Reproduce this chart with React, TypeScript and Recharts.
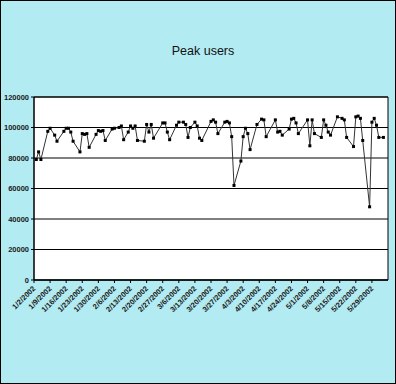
import { LineChart, Line, XAxis, YAxis, CartesianGrid, ReferenceArea } from 'recharts';

// days counted from 1/2/2002
const dayOffsets = [
  1, 2, 3, 6, 7, 9, 10, 13, 14, 15, 16, 17, 20, 21, 22, 23, 24, 27, 28, 29,
  30, 31, 34, 35, 37, 38, 39, 41, 42, 43, 44, 45, 48, 49, 50, 51, 52, 56, 57, 58,
  59, 62, 63, 65, 66, 67, 68, 70, 71, 72, 73, 77, 78, 79, 80, 83, 84, 85, 86, 87,
  90, 91, 92, 93, 94, 97, 99, 100, 101, 105, 106, 107, 108, 111, 112, 113, 114, 115, 119, 120,
  121, 122, 125, 126, 127, 128, 129, 132, 134, 135, 136, 139, 140, 141, 142, 143, 146, 147, 148, 149,
  150, 152,
];

const peakUsers = [
  79000, 84000, 79000, 97500, 99500, 95000, 91000, 97500, 99500, 99500, 97000, 91000, 84000, 96000, 95500, 96000, 87000, 95500, 98000, 97500,
  98000, 91500, 99000, 99500, 100000, 101000, 92000, 97000, 101000, 99500, 101000, 91500, 91000, 102000, 97000, 102000, 93000, 103000, 103000, 97000,
  92000, 101500, 103500, 103500, 102000, 93500, 100000, 103500, 101000, 93000, 91500, 104000, 105000, 103500, 96000, 103500, 104000, 103000, 94000, 62000,
  78000, 94000, 99500, 96000, 85500, 102000, 105500, 105000, 94000, 105000, 97000, 97500, 95000, 99000, 105500, 106000, 103000, 96000, 105000, 88000,
  105000, 96000, 93500, 105000, 101500, 97000, 95000, 107000, 106000, 105000, 93500, 87500, 107000, 107500, 106000, 91500, 48000, 103500, 106000, 101500,
  93500, 93500,
];

const tickDays = [0, 7, 14, 21, 28, 35, 42, 49, 56, 63, 70, 77, 84, 91, 98, 105, 112, 119, 126, 133, 140, 147];
const tickLabels = [
  '1/2/2002', '1/9/2002', '1/16/2002', '1/23/2002', '1/30/2002', '2/6/2002', '2/13/2002', '2/20/2002',
  '2/27/2002', '3/6/2002', '3/13/2002', '3/20/2002', '3/27/2002', '4/3/2002', '4/10/2002', '4/17/2002',
  '4/24/2002', '5/1/2002', '5/8/2002', '5/15/2002', '5/22/2002', '5/29/2002',
];
const yTicks = [0, 20000, 40000, 60000, 80000, 100000, 120000];

const data = dayOffsets.map((day, i) => ({ day, users: peakUsers[i] }));

const FONT = '"Liberation Sans", Arial, sans-serif';

const DateTick = (props: any) => {
  const { x, y, payload } = props;
  const label = tickLabels[tickDays.indexOf(payload.value)] ?? '';
  return (
    <text
      x={x + 2}
      y={y + 4}
      transform={`rotate(-45 ${x + 2} ${y + 4})`}
      textAnchor="end"
      fontSize={7.5}
      fontWeight="bold"
      fontFamily={FONT}
      fill="#1a1a1a"
    >
      {label}
    </text>
  );
};

const SquareDot = (props: any) => {
  const { cx, cy, index } = props;
  if (cx == null || cy == null) return null;
  return <rect key={index} x={cx - 1.5} y={cy - 1.5} width={3} height={3} fill="#000" />;
};

export default function App() {
  return (
    <div style={{ position: 'absolute', left: 0, top: 0, width: 396, height: 384 }}>
      <div
        style={{
          position: 'relative',
          width: 396,
          height: 384,
          boxSizing: 'border-box',
          border: '1px solid #000',
          background: '#b2ebf2',
        }}
      >
        <div
          style={{
            position: 'absolute',
            top: 43,
            left: 0,
            width: 404,
            textAlign: 'center',
            fontFamily: FONT,
            fontSize: 12.5,
            color: '#111',
          }}
        >
          Peak users
        </div>
        <div style={{ position: 'absolute', left: -1, top: -1 }}>
          <LineChart
            width={396}
            height={384}
            data={data}
            margin={{ top: 97, right: 8, bottom: 54, left: 0 }}
          >
            <CartesianGrid vertical={false} stroke="#000" strokeWidth={1} fill="#fff" fillOpacity={1} />
            <XAxis
              dataKey="day"
              type="number"
              domain={[0, 154]}
              ticks={tickDays}
              interval={0}
              tick={<DateTick />}
              tickSize={3}
              axisLine={{ stroke: '#000' }}
              tickLine={{ stroke: '#000' }}
              height={50}
            />
            <YAxis
              domain={[0, 120000]}
              ticks={yTicks}
              interval={0}
              width={34}
              tickSize={3}
              axisLine={{ stroke: '#000' }}
              tickLine={{ stroke: '#000' }}
              tick={{ fontSize: 7.5, fontWeight: 'bold', fontFamily: FONT, fill: '#1a1a1a' }}
            />
            <ReferenceArea x1={0} x2={154} y1={0} y2={120000} fill="none" stroke="#000" strokeWidth={1} ifOverflow="visible" />
            <Line
              type="linear"
              dataKey="users"
              stroke="#333"
              strokeWidth={1}
              dot={<SquareDot />}
              activeDot={false}
              isAnimationActive={false}
            />
          </LineChart>
        </div>
      </div>
    </div>
  );
}
